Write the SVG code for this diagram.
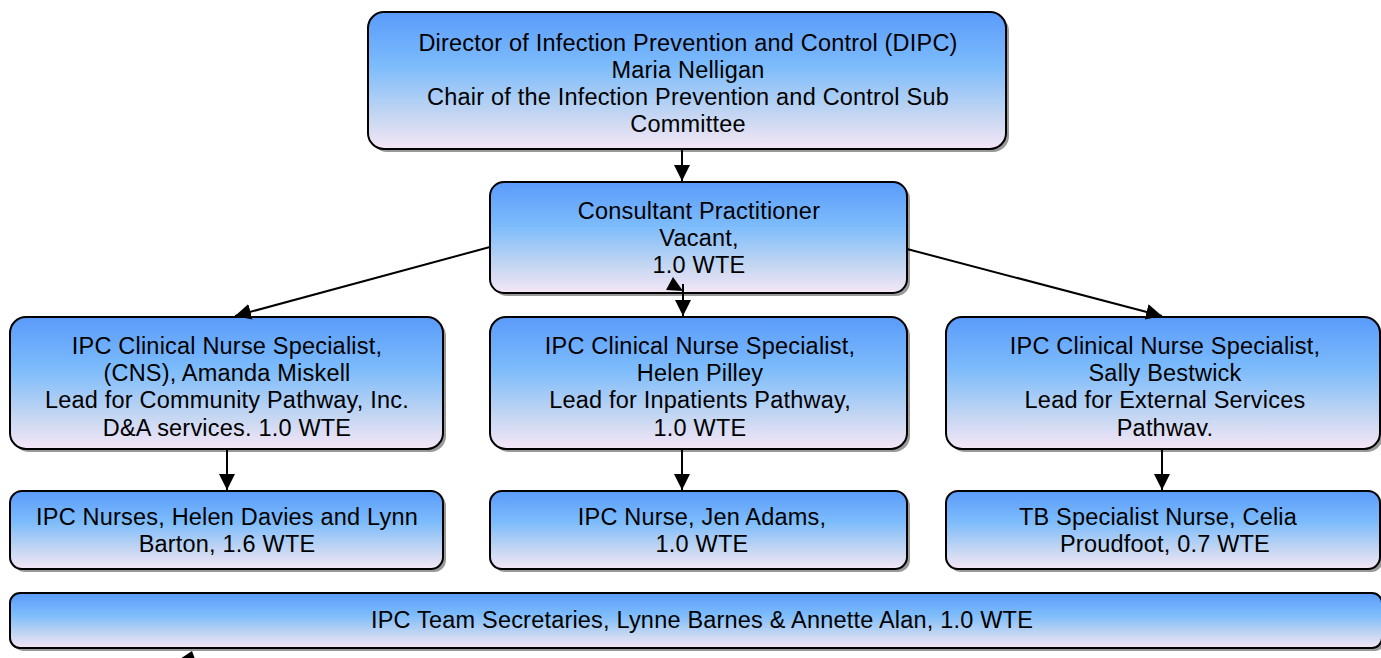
<svg xmlns="http://www.w3.org/2000/svg" width="1381" height="658" viewBox="0 0 1381 658">
  <defs>
    <linearGradient id="boxFill" x1="0" y1="0" x2="0" y2="1">
      <stop offset="0" stop-color="#5a9bfb"/>
      <stop offset="0.4" stop-color="#7dbcfb"/>
      <stop offset="0.75" stop-color="#c4d6f2"/>
      <stop offset="1" stop-color="#f5e6f6"/>
    </linearGradient>
    <marker id="arrowBig" viewBox="0 0 10 10" refX="10" refY="5" markerWidth="16" markerHeight="16" markerUnits="userSpaceOnUse" orient="auto">
      <path d="M0,0 L10,5 L0,10 z" fill="#000"/>
    </marker>
    <clipPath id="clipRow2">
      <rect x="0" y="317" width="1381" height="119"/>
    </clipPath>
  </defs>
  <style>
    .shadow { fill: #808080; opacity: 0.8; }
    .box { fill: url(#boxFill); stroke: #000; stroke-width: 2; }
    .label { font-family: "Liberation Sans", Arial, sans-serif; font-size: 23.5px; letter-spacing: 0.2px; fill: #000; text-anchor: middle; }
    .conn { stroke: #000; stroke-width: 2; fill: none; marker-end: url(#arrowBig); }
  </style>

  <rect width="1381" height="658" fill="#fff"/>

  <!-- Director -->
  <g id="director">
    <rect class="shadow" x="371" y="15" width="638" height="137" rx="16"/>
    <rect class="box" x="368" y="12" width="638" height="137" rx="16"/>
    <text class="label" x="688" y="51">Director of Infection Prevention and Control (DIPC)</text>
    <text class="label" x="688" y="78">Maria Nelligan</text>
    <text class="label" x="688" y="105">Chair of the Infection Prevention and Control Sub</text>
    <text class="label" x="688" y="132">Committee</text>
  </g>

  <!-- Consultant Practitioner -->
  <g id="consultant">
    <rect class="shadow" x="493" y="185" width="417" height="111" rx="14"/>
    <rect class="box" x="490" y="182" width="417" height="111" rx="14"/>
    <text class="label" x="699" y="219">Consultant Practitioner</text>
    <text class="label" x="699" y="246">Vacant,</text>
    <text class="label" x="699" y="273">1.0 WTE</text>
  </g>

  <!-- CNS row -->
  <g id="cns-community">
    <rect class="shadow" x="13" y="320" width="433" height="132" rx="16"/>
    <rect class="box" x="10" y="317" width="433" height="132" rx="16"/>
    <g clip-path="url(#clipRow2)">
      <text class="label" x="227" y="354">IPC Clinical Nurse Specialist,</text>
      <text class="label" x="227" y="381">(CNS), Amanda Miskell</text>
      <text class="label" x="227" y="408">Lead for Community Pathway, Inc.</text>
      <text class="label" x="227" y="436">D&amp;A services, 1.0 WTE</text>
    </g>
  </g>
  <g id="cns-inpatients">
    <rect class="shadow" x="493" y="320" width="417" height="132" rx="16"/>
    <rect class="box" x="490" y="317" width="417" height="132" rx="16"/>
    <g clip-path="url(#clipRow2)">
      <text class="label" x="700" y="354">IPC Clinical Nurse Specialist,</text>
      <text class="label" x="700" y="381">Helen Pilley</text>
      <text class="label" x="700" y="408">Lead for Inpatients Pathway,</text>
      <text class="label" x="700" y="436">1.0 WTE</text>
    </g>
  </g>
  <g id="cns-external">
    <rect class="shadow" x="949" y="320" width="434" height="132" rx="16"/>
    <rect class="box" x="946" y="317" width="434" height="132" rx="16"/>
    <g clip-path="url(#clipRow2)">
      <text class="label" x="1165" y="354">IPC Clinical Nurse Specialist,</text>
      <text class="label" x="1165" y="381">Sally Bestwick</text>
      <text class="label" x="1165" y="408">Lead for External Services</text>
      <text class="label" x="1165" y="436">Pathway,</text>
    </g>
  </g>

  <!-- Nurses row -->
  <g id="nurses-community">
    <rect class="shadow" x="13" y="494" width="433" height="78" rx="12"/>
    <rect class="box" x="10" y="491" width="433" height="78" rx="12"/>
    <text class="label" x="227" y="525">IPC Nurses, Helen Davies and Lynn</text>
    <text class="label" x="227" y="552">Barton, 1.6 WTE</text>
  </g>
  <g id="nurse-inpatients">
    <rect class="shadow" x="493" y="494" width="417" height="78" rx="12"/>
    <rect class="box" x="490" y="491" width="417" height="78" rx="12"/>
    <text class="label" x="702" y="525">IPC Nurse, Jen Adams,</text>
    <text class="label" x="702" y="552">1.0 WTE</text>
  </g>
  <g id="tb-nurse">
    <rect class="shadow" x="949" y="494" width="434" height="78" rx="12"/>
    <rect class="box" x="946" y="491" width="434" height="78" rx="12"/>
    <text class="label" x="1158" y="525">TB Specialist Nurse, Celia</text>
    <text class="label" x="1165" y="552">Proudfoot, 0.7 WTE</text>
  </g>

  <!-- Secretaries -->
  <g id="secretaries">
    <rect class="shadow" x="13" y="596" width="1372" height="55" rx="10"/>
    <rect class="box" x="10" y="593" width="1372" height="55" rx="10"/>
    <text class="label" x="702" y="628">IPC Team Secretaries, Lynne Barnes &amp; Annette Alan, 1.0 WTE</text>
  </g>

  <!-- Connectors -->
  <g id="connectors">
    <line class="conn" x1="682" y1="150" x2="682" y2="181"/>
    <line class="conn" x1="490" y1="247" x2="235" y2="316"/>
    <line class="conn" x1="907" y1="249" x2="1162" y2="316"/>
    <line class="conn" x1="683" y1="284" x2="683" y2="316"/>
    <polygon points="673,277 666,290 683,291" fill="#000"/>
    <line class="conn" x1="227" y1="450" x2="227" y2="490"/>
    <line class="conn" x1="682" y1="450" x2="682" y2="490"/>
    <line class="conn" x1="1162" y1="450" x2="1162" y2="490"/>
    <polygon points="180,659 192,651 195,659" fill="#000"/>
  </g>
</svg>
